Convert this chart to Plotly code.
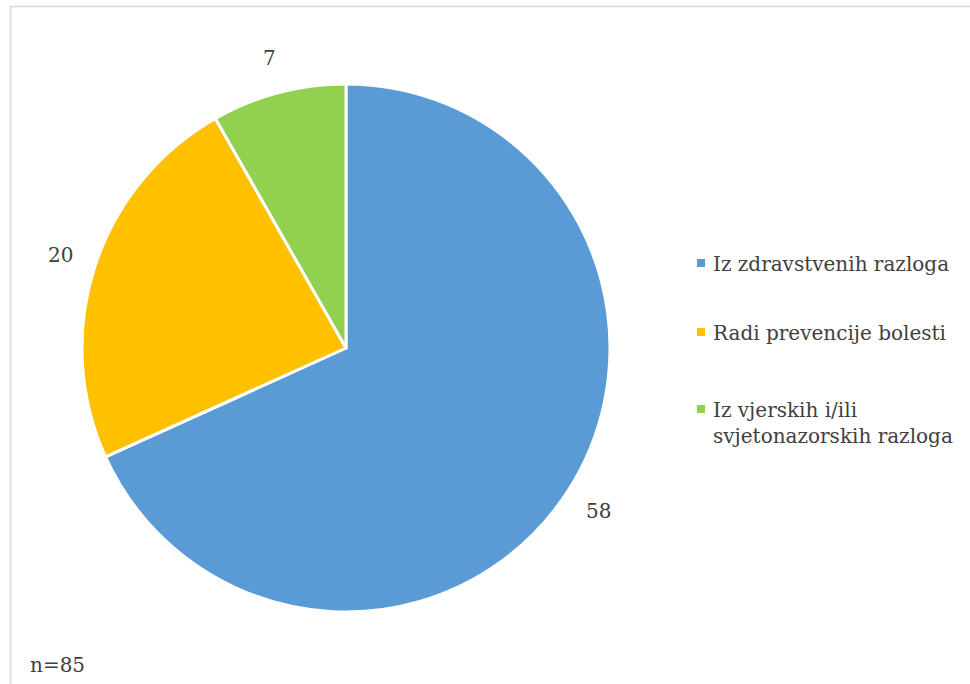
import math
import plotly.graph_objects as go

# Reasons for the diet (n=85)
categories = ["Iz zdravstvenih razloga", "Radi prevencije bolesti", "Iz vjerskih i/ili svjetonazorskih razloga"]
legend_labels = ["Iz zdravstvenih razloga", "Radi prevencije bolesti", "Iz vjerskih i/ili<br>svjetonazorskih razloga"]
values = [58, 20, 7]
colors = ["#5B9BD5", "#FFC000", "#92D050"]
note = "n=85"

W, H = 970, 684
cx, cy, r = 346, 348, 264  # pie centre and domain half-size in pixels
FONT = "DejaVu Serif"
TXT = "#404040"

fig = go.Figure(go.Pie(
    labels=categories,
    values=values,
    sort=False,
    direction="clockwise",
    rotation=0,
    marker=dict(colors=colors, line=dict(color="white", width=3)),
    textinfo="none",
    hoverinfo="label+value",
    showlegend=False,
    domain=dict(x=[(cx - r) / W, (cx + r) / W], y=[1 - (cy + r) / H, 1 - (cy - r) / H]),
))

annotations = []
# value labels outside each slice, placed along the slice's mid angle
total = sum(values)
cum = 0
label_r = r + 36
for v in values:
    mid = (cum + v / 2) / total * 2 * math.pi
    cum += v
    px = cx + label_r * math.sin(mid)
    py = cy - label_r * math.cos(mid)
    annotations.append(dict(
        x=px / W, y=1 - py / H, xref="paper", yref="paper",
        text=str(v), showarrow=False, xanchor="center", yanchor="middle",
        font=dict(family=FONT, size=20, color=TXT),
    ))

# legend
shapes = []
legend_rows = [263, 332, 409]
for lab, col, ly in zip(legend_labels, colors, legend_rows):
    shapes.append(dict(type="rect", xref="paper", yref="paper",
                       x0=697 / W, x1=705 / W, y0=1 - (ly + 4) / H, y1=1 - (ly - 4) / H,
                       fillcolor=col, line=dict(width=0)))
    annotations.append(dict(
        x=711 / W, y=1 - (ly - 13) / H, xref="paper", yref="paper",
        text=lab, showarrow=False, xanchor="left", yanchor="top", align="left",
        font=dict(family=FONT, size=20, color=TXT),
    ))

annotations.append(dict(
    x=28 / W, y=1 - 665 / H, xref="paper", yref="paper",
    text=note, showarrow=False, xanchor="left", yanchor="middle",
    font=dict(family=FONT, size=20, color=TXT),
))

# chart border
shapes.append(dict(type="rect", xref="paper", yref="paper",
                   x0=10.5 / W, x1=1.01, y0=-0.01, y1=1 - 6.5 / H,
                   line=dict(color="#D9D9D9", width=1.5), fillcolor="rgba(0,0,0,0)", layer="below"))

fig.update_layout(
    width=W, height=H,
    margin=dict(l=0, r=0, t=0, b=0),
    paper_bgcolor="white", plot_bgcolor="white",
    annotations=annotations, shapes=shapes,
)

fig.write_html("out.html")
